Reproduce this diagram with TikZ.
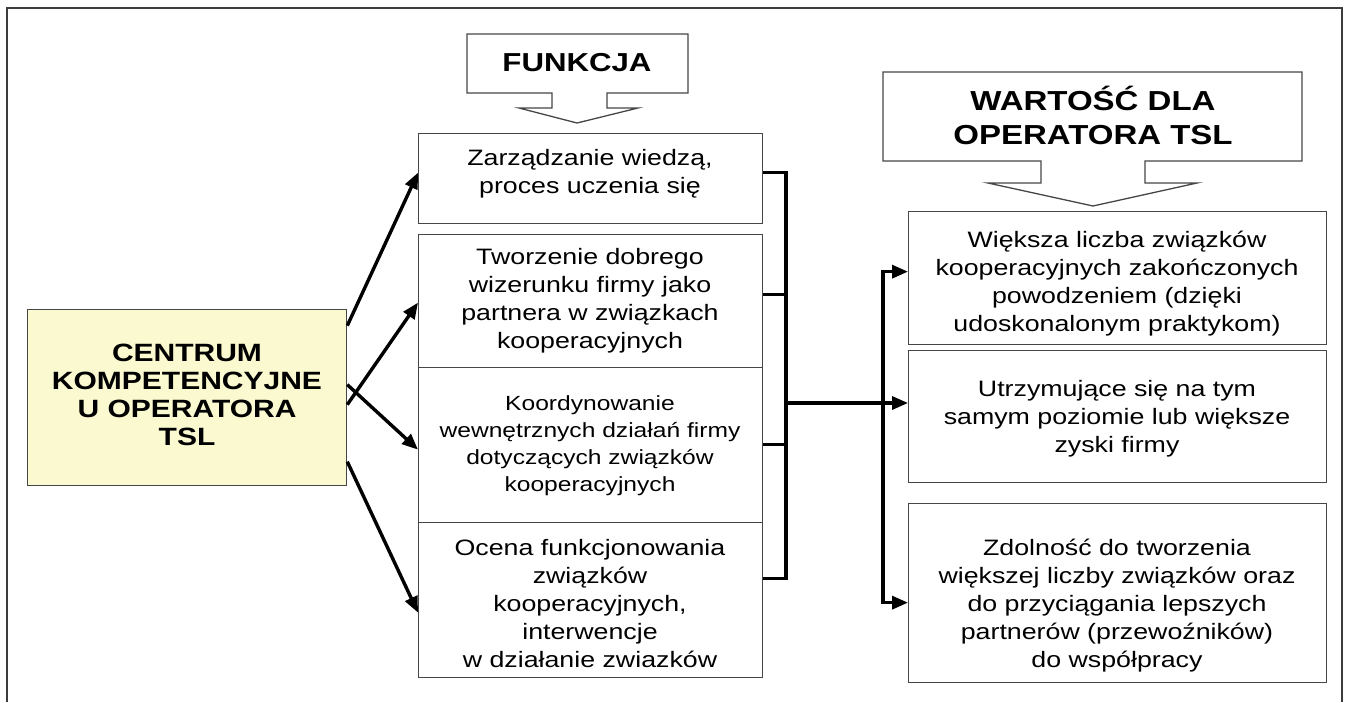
\documentclass[tikz,border=0pt]{standalone}
\usepackage{fontspec}
\setmainfont{Liberation Sans}[FakeStretch=1.2]
\usetikzlibrary{arrows.meta}
\definecolor{frameC}{RGB}{60,60,60}
\definecolor{boxC}{RGB}{70,70,70}
\definecolor{yellowC}{RGB}{250,249,208}
\begin{document}
\begin{tikzpicture}[x=1pt,y=-1pt,
  box/.style={draw=boxC, line width=1.3pt, fill=white, inner sep=0pt, anchor=north west},
  txt/.style={align=center, inner sep=0pt, font=\fontsize{22.3}{28}\selectfont},
  hdr/.style={align=center, inner sep=0pt, font=\bfseries\fontsize{26}{34}\selectfont},
  arr/.style={line width=3.4pt, -{Triangle[length=16pt,width=13pt]}},
  brk/.style={line width=3.4pt, line join=miter},
  callout/.style={draw=boxC, line width=1.3pt, fill=white, line join=miter}]
\useasboundingbox (0,0) rectangle (1346,702);
% outer frame
\draw[frameC, line width=1.8pt] (7,702) -- (7,8) -- (1342,8) -- (1342,702);

% FUNKCJA callout
\draw[callout] (467,34) -- (688,34) -- (688,93) -- (607,93) -- (607,108) -- (638,108)
  -- (577,123) -- (519,108) -- (552,108) -- (552,93) -- (467,93) -- cycle;
\node[hdr] (fk) at (577,63) {FUNKCJA};

% WARTOSC callout
\draw[callout] (883,72) -- (1302,72) -- (1302,161) -- (1145,161) -- (1145,183) -- (1197,183)
  -- (1093,206) -- (988,183) -- (1041,183) -- (1041,161) -- (883,161) -- cycle;
\node[hdr, font=\bfseries\fontsize{27.5}{34}\selectfont] (wt) at (1093,115) {WARTOŚĆ DLA\\OPERATORA TSL};

% left box
\node[box, fill=yellowC, minimum width=319pt, minimum height=176pt] (Y) at (27,309) {};
\node[hdr, font=\bfseries\fontsize{25}{28}\selectfont] (yt) at (187,395) {CENTRUM\\KOMPETENCYJNE\\U OPERATORA\\TSL};

% middle boxes
\node[box, minimum width=344pt, minimum height=90pt] (b1) at (418,133) {};
\node[box, minimum width=344pt, minimum height=133pt] (b2) at (418,234) {};
\node[box, minimum width=344pt, minimum height=155pt] (b3) at (418,367) {};
\node[box, minimum width=344pt, minimum height=155pt] (b4) at (418,522) {};
\node[txt] (t1) at (590,174) {Zarządzanie wiedzą,\\proces uczenia się};
\node[txt] (t2) at (590,301) {Tworzenie dobrego\\wizerunku firmy jako\\partnera w związkach\\kooperacyjnych};
\node[txt, font=\fontsize{20.5}{27}\selectfont] (t3) at (590,446) {Koordynowanie\\wewnętrznych działań firmy\\dotyczących związków\\kooperacyjnych};
\node[txt] (t4) at (590,604) {Ocena funkcjonowania\\związków\\kooperacyjnych,\\interwencje\\w działanie zwiazków};

% right boxes
\node[box, minimum width=418pt, minimum height=133pt] (r1) at (908,211) {};
\node[box, minimum width=418pt, minimum height=132pt] (r2) at (908,350) {};
\node[box, minimum width=418pt, minimum height=179pt] (r3) at (908,503) {};
\node[txt] (rt1) at (1117,284) {Większa liczba związków\\kooperacyjnych zakończonych\\powodzeniem (dzięki\\udoskonalonym praktykom)};
\node[txt] (rt2) at (1117,419) {Utrzymujące się na tym\\samym poziomie lub większe\\zyski firmy};
\node[txt] (rt3) at (1117,606) {Zdolność do tworzenia\\większej liczby związków oraz\\do przyciągania lepszych\\partnerów (przewoźników)\\do współpracy};

% arrows from the left box
\draw[arr] ([yshift=72pt]Y.east) -- ([yshift=6pt]b1.west);
\draw[arr] ([yshift=-7pt]Y.east) -- ([yshift=-1.5pt]b2.west);
\draw[arr] ([yshift=13pt]Y.east) -- ([yshift=-4.5pt]b3.west);
\draw[arr] ([yshift=-64pt]Y.east) -- ([yshift=-12.5pt]b4.west);

% bracket
\coordinate (J) at (786,403);
\coordinate (K) at (883,403);
\draw[brk] ([yshift=6pt]b1.east) -| (J) |- ([yshift=21.5pt]b4.east);
\draw[brk] ([yshift=6.5pt]b2.east) -| (J);
\draw[brk] ([yshift=0.5pt]b3.east) -| (J);
\draw[arr] (J) -- (J -| r2.west);
\draw[arr, line join=miter] (K) |- ([yshift=6.5pt]r1.west);
\draw[arr, line join=miter] (K) |- ([yshift=-9.5pt]r3.west);
\end{tikzpicture}
\end{document}
